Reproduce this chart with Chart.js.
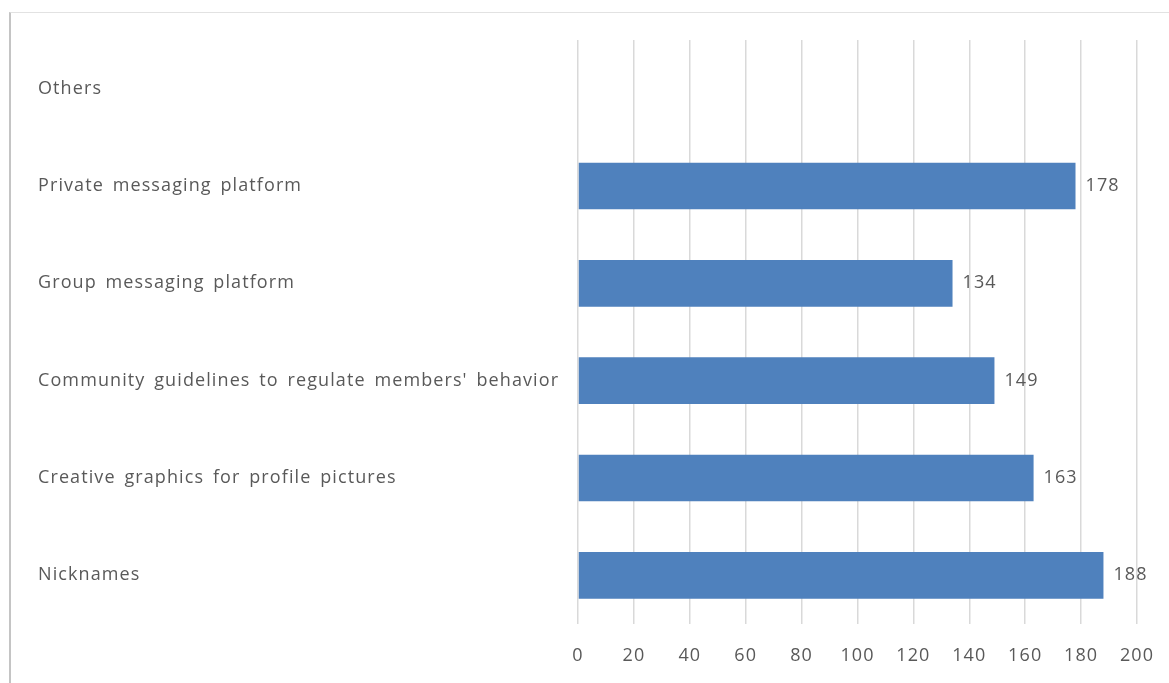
<!DOCTYPE html>
<html>
<head>
<meta charset="utf-8">
<style>
  html, body { margin: 0; padding: 0; background: #fff; }
  #wrap { position: relative; width: 1169px; height: 683px; overflow: hidden; }
  #frame { position: absolute; left: 9px; top: 12px; right: -2px; bottom: -2px;
           border-left: 2px solid #c4c4c4; border-top: 1px solid #e2e2e2; }
  #chart { position: absolute; left: 0; top: 0; }
</style>
</head>
<body>
<div id="wrap">
  <div id="frame"></div>
  <canvas id="chart" width="1169" height="683"></canvas>
</div>

<script src="https://cdn.jsdelivr.net/npm/chart.js"></script>
<script>
  const categories = [
    'Others',
    'Private messaging platform',
    'Group messaging platform',
    "Community guidelines to regulate members' behavior",
    'Creative graphics for profile pictures',
    'Nicknames'
  ];
  const counts = [null, 178, 134, 149, 163, 188];
  const xTicks = [0, 20, 40, 60, 80, 100, 120, 140, 160, 180, 200];

  const textColor = '#595959';
  const font = { family: "'Open Sans', sans-serif", size: 18 };

  // the reference text is set a bit wider than Open Sans
  const wideText = {
    id: 'wideText',
    beforeDraw(chart) {
      chart.ctx.letterSpacing = '1.1px';
      chart.ctx.wordSpacing = '3px';
    }
  };

  // value labels to the right of each bar
  const valueLabels = {
    id: 'valueLabels',
    afterDatasetsDraw(chart) {
      const ctx = chart.ctx;
      const meta = chart.getDatasetMeta(0);
      ctx.save();
      ctx.fillStyle = textColor;
      ctx.font = font.size + 'px ' + font.family;
      ctx.textAlign = 'left';
      ctx.textBaseline = 'middle';
      meta.data.forEach((bar, i) => {
        if (counts[i] == null) return;
        ctx.fillText(String(counts[i]), bar.x + 10, bar.y);
      });
      ctx.restore();
    }
  };

  new Chart(document.getElementById('chart').getContext('2d'), {
    type: 'bar',
    data: {
      labels: categories,
      datasets: [{
        data: counts,
        backgroundColor: '#4f81bd',
        borderWidth: 0,
        categoryPercentage: 1,
        barPercentage: 0.48
      }]
    },
    options: {
      indexAxis: 'y',
      responsive: false,
      animation: false,
      layout: { padding: { left: 38, top: 40, right: 32, bottom: 0 } },
      plugins: { legend: { display: false }, tooltip: { enabled: false } },
      scales: {
        x: {
          min: 0,
          max: 200,
          afterBuildTicks(axis) { axis.ticks = xTicks.map(v => ({ value: v })); },
          afterFit(axis) { axis.height = 59; },
          // invisible tick marks push the labels down without adding side padding
          grid: { color: '#d9d9d9', lineWidth: 1.5, drawTicks: true, tickLength: 21, tickColor: 'rgba(0,0,0,0)' },
          border: { display: false },
          ticks: { color: textColor, font: font, padding: 0 }
        },
        y: {
          afterFit(axis) { axis.width = 540; },
          grid: { display: false, drawTicks: false },
          border: { display: false },
          ticks: { color: textColor, font: font, crossAlign: 'far', padding: 0 }
        }
      }
    },
    plugins: [wideText, valueLabels]
  });
</script>
</body>
</html>
